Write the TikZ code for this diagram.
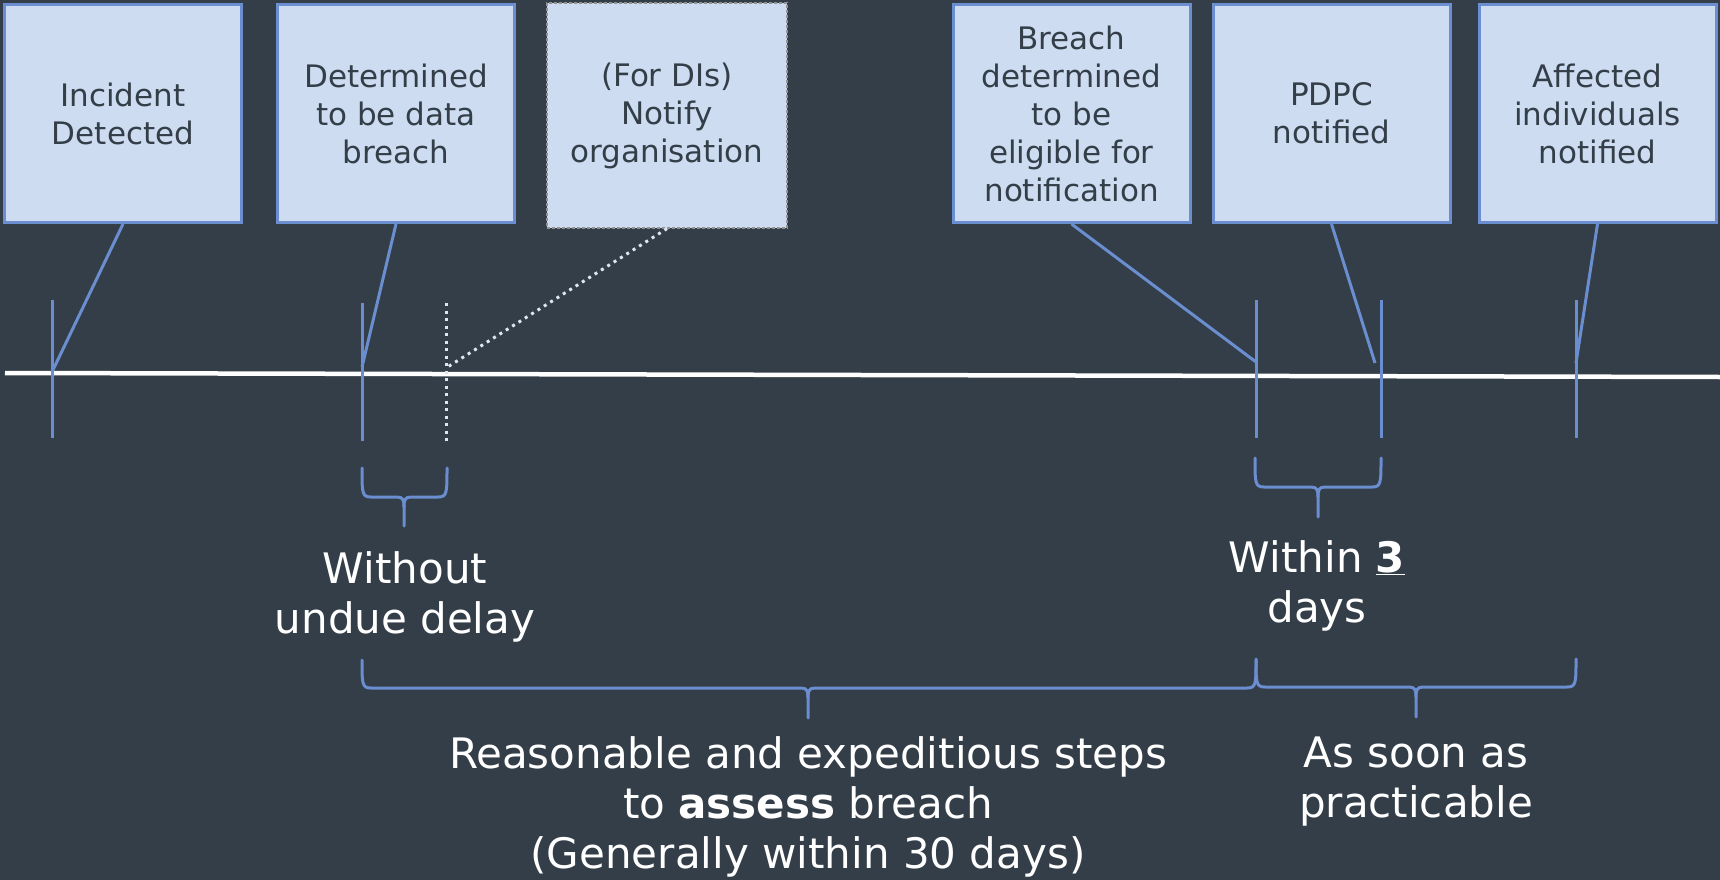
\documentclass[tikz,border=0pt]{standalone}
\usepackage{fontspec}
\setmainfont{DejaVu Sans}
\definecolor{bg}{HTML}{333E48}
\definecolor{boxfill}{HTML}{CDDCF0}
\definecolor{lineblue}{HTML}{6A8ED0}
\definecolor{boxtext}{HTML}{333E48}
\definecolor{dotwhite}{HTML}{DDE6F2}
\newcommand\drawbracket[6]{% xl, xr, xc, ytop, ybar, ytip
  \draw[bracket] (#1,#4) .. controls (#1,#5-4) and (#1,#5) .. (#1+9,#5)
    -- (#3-7,#5) .. controls (#3-1,#5) and (#3,#5+3) .. (#3,#5+10) -- (#3,#6);
  \draw[bracket] (#2,#4) .. controls (#2,#5-4) and (#2,#5) .. (#2-9,#5)
    -- (#3+7,#5) .. controls (#3+1,#5) and (#3,#5+3) .. (#3,#5+10);
}
\begin{document}
\begin{tikzpicture}[x=1pt,y=-1pt,
  evbox/.style={draw=lineblue, line width=3pt, fill=boxfill, minimum width=237pt,
    minimum height=218pt, inner sep=0pt, align=center, text=boxtext,
    font=\fontsize{31}{38}\selectfont},
  dibox/.style={evbox, draw=gray!85!white, line width=1.2pt, densely dashed,
    minimum width=240pt, minimum height=225pt},
  conn/.style={draw=lineblue, line width=3pt},
  tickmark/.style={draw=lineblue, line width=3pt},
  dotline/.style={draw=dotwhite, line width=3pt, dash pattern=on 3pt off 4.5pt},
  bracket/.style={draw=lineblue, line width=3pt, line cap=round},
  label/.style={text=white, align=center, anchor=base, inner sep=0pt,
    font=\fontsize{42}{50}\selectfont}]
\useasboundingbox[fill=bg] (0,0) rectangle (1720,880);

% timeline
\draw[white, line width=4.5pt] (5,373) -- (1720,377);

% boxes
\node[evbox] (b1) at (123,113.5) {Incident\\Detected};
\node[evbox] (b2) at (396,113.5) {Determined\\to be data\\breach};
\node[dibox] (b3) at (667,115.5) {(For DIs)\\Notify\\organisation};
\node[evbox] (b4) at (1071.5,113.5) {Breach\\determined\\to be\\eligible for\\notification};
\node[evbox] (b5) at (1331.5,113.5) {PDPC\\notified};
\node[evbox] (b6) at (1597.5,113.5) {Affected\\individuals\\notified};

% tick marks
\draw[tickmark] (52,300) -- (52,438);
\draw[tickmark] (362,303) -- (362,441);
\draw[dotline] (446,303) -- (446,441);
\draw[tickmark] (1256,300) -- (1256,438);
\draw[tickmark] (1381,300) -- (1381,438);
\draw[tickmark] (1576,300) -- (1576,438);

% connector end points
\coordinate (p1) at (52,372);
\coordinate (p2) at (362,367);
\coordinate (p3) at (446,368);
\coordinate (p4) at (1256,362);
\coordinate (p5) at (1375,363);
\coordinate (p6) at (1576,363);

\draw[conn] (b1.south) -- (p1);
\draw[conn] (b2.south) -- (p2);
\draw[dotline] (b3.south) -- (p3);
\draw[conn] (b4.south) -- (p4);
\draw[conn] (b5.south) -- (p5);
\draw[conn] (b6.south) -- (p6);

% brackets
\drawbracket{362}{447}{404}{468}{497}{526}
\drawbracket{1255}{1381}{1318}{458}{487}{517}
\drawbracket{362}{1256}{808}{660}{688}{718}
\drawbracket{1256}{1576}{1416}{659}{687}{717}

% labels (anchor at baseline of last line)
\node[label] (l1) at (405,633) {Without\\undue delay};
\node[label] (l2) at (1317,622) {Within \underline{\textbf{3}}\\days};
\node[label] (l3) at (808,868) {Reasonable and expeditious steps\\to \textbf{assess} breach\\(Generally within 30 days)};
\node[label] (l4) at (1416,817) {As soon as\\practicable};
\end{tikzpicture}
\end{document}
